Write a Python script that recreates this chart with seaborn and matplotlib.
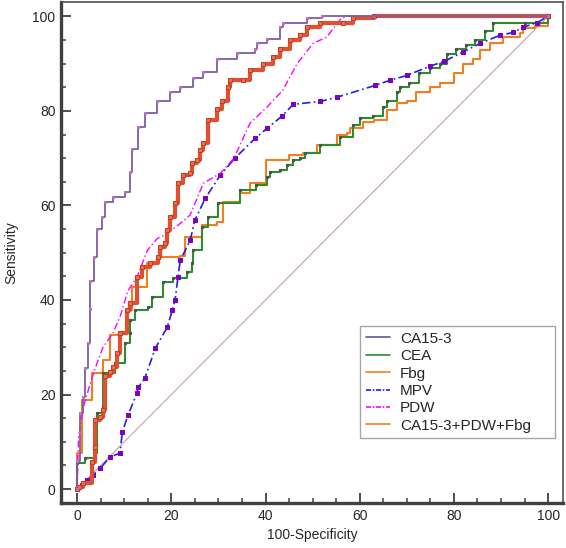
import matplotlib
matplotlib.use("Agg")
import matplotlib.pyplot as plt
import seaborn as sns
import pandas as pd
from matplotlib.lines import Line2D
from matplotlib.ticker import MultipleLocator

# --- DATA (100-Specificity vs Sensitivity) ---
ca153_x = [0, 0, 0.6, 0.6, 1.3, 1.7, 2.3, 2.8, 2.8, 3.5, 4.2, 5.3, 5.9, 7.6, 10.2, 11.3, 11.7,
           13.0, 14.4, 17.0, 19.7, 21.9, 24.6, 26.8, 29.7, 34.0, 37.8, 38.2, 40.3, 43.0, 43.7,
           48.8, 52.0, 100]
ca153_y = [0, 6, 12, 16, 19.5, 25.6, 31, 38, 44, 49, 55, 57.5, 60.7, 61.7, 62.8, 67, 72,
           76.5, 79.5, 82, 84, 85, 87, 88.2, 91, 92.2, 93.2, 94.3, 95.3, 97.7, 98.7,
           99.6, 100, 100]

cea_x = [0, 0, 1.7, 3.8, 4.2, 5.5, 5.5, 8.0, 10.2, 11.3, 11.3, 12.3, 15.0, 15.9, 18.3, 20.4,
         23.4, 24.4, 24.6, 26.5, 27.8, 29.9, 34.6, 38.0, 40.3, 41.0, 43.0, 44.6, 45.9, 47.3,
         48.4, 51.5, 55.8, 58.6, 60.0, 62.8, 65.0, 65.8, 68.0, 68.6, 70.5, 72.5, 75.0, 77.0,
         78.5, 80.5, 82.5, 84.5, 86.5, 88.3, 95.0, 100]
cea_y = [0, 5.5, 6.6, 7.6, 16.0, 17.3, 24.5, 26.6, 30.8, 33.0, 35.7, 37.8, 38.5, 40.6, 43.8, 44.6,
         45.9, 47.8, 50.5, 55.4, 57.5, 60.5, 63.2, 64.3, 66.0, 67.0, 67.4, 68.5, 69.6, 70.0,
         71.2, 72.8, 74.4, 77.0, 78.6, 79.0, 80.8, 82.2, 84.0, 85.0, 86.0, 88.0, 89.0, 90.0,
         92.0, 93.0, 94.0, 95.0, 97.0, 98.5, 98.5, 100]

fbg_x = [0, 0, 0.3, 1.0, 3.2, 5.5, 7.0, 9.1, 10.6, 11.7, 14.9, 17.2, 21.9, 23.0, 25.7, 26.5,
         29.7, 31.0, 34.0, 34.6, 36.7, 38.5, 40.0, 43.0, 45.0, 48.0, 51.0, 55.2, 57.3, 58.0,
         60.7, 63.0, 65.8, 68.0, 70.0, 72.0, 75.0, 77.0, 80.0, 82.0, 84.0, 85.6, 87.7, 90.4,
         94.0, 94.7, 97.2, 100, 100]
fbg_y = [0, 7.6, 7.6, 18.8, 24.5, 27.3, 32.6, 33.2, 37.8, 42.7, 47.8, 49.0, 49.3, 53.3, 53.3, 55.8,
         56.4, 60.7, 60.7, 62.6, 64.7, 64.7, 69.6, 69.6, 70.6, 71.0, 72.7, 74.8, 75.3, 76.3,
         77.6, 78.0, 80.1, 81.6, 82.0, 84.0, 85.0, 86.0, 88.0, 90.0, 91.0, 92.8, 94.3, 95.6,
         96.4, 97.5, 98.0, 98.5, 100]

mpv_x = [0, 1.0, 2.1, 3.4, 4.9, 7.0, 9.1, 9.6, 10.8, 12.7, 13.0, 14.4, 16.6, 19.1, 20.2, 20.8,
         21.4, 21.9, 24.0, 25.0, 27.2, 30.4, 33.5, 37.8, 40.3, 43.5, 45.9, 51.6, 55.2, 63.3,
         66.5, 70.0, 75.0, 78.0, 82.0, 85.6, 89.8, 92.6, 94.7, 97.7, 100]
mpv_y = [0, 0.8, 1.9, 3.0, 4.4, 6.8, 7.6, 12.1, 15.6, 20.3, 21.6, 23.5, 29.8, 34.2, 37.8, 40.0,
         44.8, 48.4, 52.6, 56.9, 61.5, 66.4, 70.0, 74.2, 76.3, 78.9, 81.4, 82.0, 82.9, 85.4,
         86.5, 87.5, 89.5, 90.5, 92.5, 94.3, 96.0, 96.6, 97.7, 98.7, 100]

pdw_x = [0, 0.3, 1.3, 2.8, 4.2, 5.5, 7.6, 9.1, 10.8, 12.7, 14.9, 17.0, 19.1, 21.9, 24.0, 26.8,
         30.4, 33.3, 36.7, 40.3, 43.7, 46.7, 50.1, 53.0, 55.2, 56.0, 57.0, 100]
pdw_y = [0, 11, 17.3, 22.4, 26.6, 30.0, 33.0, 36.4, 42.0, 44.8, 50.5, 53.0, 54.0, 56.2, 58.0, 64.7,
         66.8, 70.0, 77.4, 80.8, 84.4, 90.0, 94.3, 95.6, 98.5, 99.5, 100, 100]

comb_x = [0, 0.3, 1.3, 3.2, 3.8, 3.8, 4.9, 5.5, 5.9, 7.0, 7.6, 8.5, 9.1, 10.6, 11.3, 12.7, 13.8,
          15.5, 17.2, 17.6, 18.7, 19.1, 19.7, 20.8, 21.4, 22.5, 24.0, 24.4, 25.5, 26.0, 26.8,
          27.8, 29.7, 30.8, 32.0, 32.5, 35.2, 36.7, 39.5, 41.6, 43.0, 45.2, 47.3, 48.8, 51.6,
          56.5, 58.6, 63.0, 100]
comb_y = [0, 0.4, 1.3, 5.7, 8.9, 14.6, 15.2, 16.7, 24.0, 24.7, 25.8, 28.8, 33.0, 37.8, 39.3, 44.8, 46.9,
          47.8, 49.0, 51.2, 52.0, 54.8, 57.5, 60.5, 64.7, 66.4, 66.8, 68.9, 69.6, 71.7, 73.2,
          78.0, 80.5, 82.2, 85.0, 86.5, 86.5, 88.6, 90.0, 91.3, 93.2, 94.9, 96.0, 97.7, 98.5,
          98.7, 99.6, 100, 100]

ref_x = [0, 100]
ref_y = [0, 100]

labels = ["CA15-3", "CEA", "Fbg", "MPV", "PDW", "CA15-3+PDW+Fbg"]

# --- STYLE ---
sns.set_style("white")
plt.rcParams['font.family'] = ['Liberation Sans', 'DejaVu Sans']
plt.rcParams['xtick.direction'] = 'in'
plt.rcParams['ytick.direction'] = 'in'

fig = plt.figure(figsize=(5.66, 5.48), dpi=100)
ax = fig.add_axes([0.108, 0.082, 0.887, 0.914])


def curve(x, y, **kw):
    df = pd.DataFrame({"fpr": x, "tpr": y})
    sns.lineplot(data=df, x="fpr", y="tpr", estimator=None, sort=False, ax=ax, legend=False, **kw)


# diagonal reference
curve(ref_x, ref_y, color="#c8a0a0", linewidth=0.8)

curve(fbg_x, fbg_y, color="#f07f20", linewidth=1.5, drawstyle="steps-post")
curve(cea_x, cea_y, color="#2e8b2e", linewidth=1.5, drawstyle="steps-post",
      marker="s", markersize=2, markerfacecolor="#505050", markeredgecolor="#505050")
curve(mpv_x, mpv_y, color="#2020e0", linewidth=1.2, linestyle=(0, (5, 2, 1, 2)),
      marker="s", markersize=3.5, markerfacecolor="#8000c0", markeredgecolor="#8000c0")
curve(pdw_x, pdw_y, color="#ff00ff", linewidth=1.0, linestyle=(0, (5, 2, 1, 2)))
curve(comb_x, comb_y, color="#e05030", linewidth=3, drawstyle="steps-post",
      marker="s", markersize=3.5, markerfacecolor="#e87050", markeredgecolor="#c04020")
curve(ca153_x, ca153_y, color="#7b5ea7", linewidth=1.3, drawstyle="steps-post",
      marker="s", markersize=2, markerfacecolor="#c070c0", markeredgecolor="#c070c0")

ax.set_xlim(-3.4, 103.2)
ax.set_ylim(-2.96, 103.0)
ax.xaxis.set_major_locator(MultipleLocator(20))
ax.yaxis.set_major_locator(MultipleLocator(20))
ax.xaxis.set_minor_locator(MultipleLocator(5))
ax.yaxis.set_minor_locator(MultipleLocator(5))
ax.tick_params(which="major", direction="in", length=7, width=1.3, color="#404040",
               labelsize=10, pad=4, bottom=True, left=True)
ax.tick_params(which="minor", direction="in", length=3.5, width=1.1, color="#404040",
               bottom=True, left=True)

for side in ["left", "bottom"]:
    ax.spines[side].set_linewidth(2.4)
    ax.spines[side].set_color("#404040")
for side in ["top", "right"]:
    ax.spines[side].set_linewidth(1.2)
    ax.spines[side].set_color("#505050")

ax.set_xlabel("100-Specificity", fontsize=10, labelpad=4)
ax.set_ylabel("Sensitivity", fontsize=10, labelpad=10)

handles = [
    Line2D([], [], color="#5a5aa0", linewidth=1.2),
    Line2D([], [], color="#2e8b2e", linewidth=1.2),
    Line2D([], [], color="#f07f20", linewidth=1.2),
    Line2D([], [], color="#2020e0", linewidth=1.2, linestyle=(0, (3, 1, 1, 1))),
    Line2D([], [], color="#ff00ff", linewidth=1.2, linestyle=(0, (3, 1, 1, 1))),
    Line2D([], [], color="#f07f20", linewidth=1.2),
]
leg = ax.legend(handles, labels, loc="lower left", bbox_to_anchor=(0.596, 0.13, 0.388, 0.2315),
                mode="expand", borderaxespad=0, fontsize=11, frameon=True, fancybox=False,
                handlelength=1.6, handletextpad=0.65, labelspacing=0.22, borderpad=0.35)
leg.get_frame().set_edgecolor("#909090")
leg.get_frame().set_linewidth(1.0)

fig.savefig("out.png", dpi=100)
